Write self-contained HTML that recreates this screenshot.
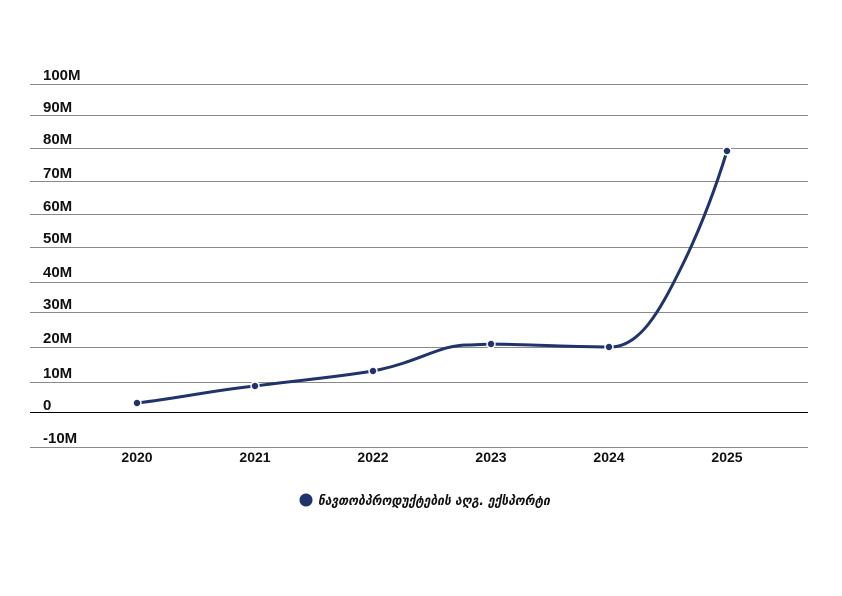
<!DOCTYPE html>
<html><head><meta charset="utf-8"><style>body{margin:0;background:#fff}svg{display:block}</style></head><body>
<svg width="842" height="596" xmlns="http://www.w3.org/2000/svg" font-family="Liberation Sans, DejaVu Sans, sans-serif">
<g stroke="#8a8a8a" stroke-width="1">
<line x1="30" x2="808" y1="84.5" y2="84.5"/><line x1="30" x2="808" y1="115.5" y2="115.5"/><line x1="30" x2="808" y1="148.5" y2="148.5"/><line x1="30" x2="808" y1="181.5" y2="181.5"/><line x1="30" x2="808" y1="214.5" y2="214.5"/><line x1="30" x2="808" y1="247.5" y2="247.5"/><line x1="30" x2="808" y1="282.5" y2="282.5"/><line x1="30" x2="808" y1="312.5" y2="312.5"/><line x1="30" x2="808" y1="347.5" y2="347.5"/><line x1="30" x2="808" y1="382.5" y2="382.5"/><line x1="30" x2="808" y1="447.5" y2="447.5"/>
</g>
<line x1="30" x2="808" y1="412.5" y2="412.5" stroke="#000" stroke-width="1"/>
<g font-size="15" font-weight="bold" fill="#111">
<text x="43" y="80">100M</text><text x="43" y="112">90M</text><text x="43" y="144">80M</text><text x="43" y="178">70M</text><text x="43" y="211">60M</text><text x="43" y="243">50M</text><text x="43" y="277">40M</text><text x="43" y="309">30M</text><text x="43" y="343">20M</text><text x="43" y="378">10M</text><text x="43" y="410">0</text><text x="43" y="443">-10M</text>
</g>
<g font-size="14" font-weight="bold" fill="#111" text-anchor="middle">
<text x="137" y="462">2020</text><text x="255" y="462">2021</text><text x="373" y="462">2022</text><text x="491" y="462">2023</text><text x="609" y="462">2024</text><text x="727" y="462">2025</text>
</g>
<path d="M137,403 C180,398 215,390 255,386 C300,380 330,378 373,371 C420,362 440,344 470,345 C490,344 500,344 491,344 C540,345 580,347 609,347 C640,348 660,310 680,270 C700,230 715,190 727,151" fill="none" stroke="#20336b" stroke-width="3"/>
<g fill="#20336b" stroke="#fff" stroke-width="1.5">
<circle cx="137" cy="403" r="4"/><circle cx="255" cy="386" r="4"/><circle cx="373" cy="371" r="4"/><circle cx="491" cy="344" r="4"/><circle cx="609" cy="347" r="4"/><circle cx="727" cy="151" r="4"/>
</g>
<circle cx="306" cy="500" r="6.5" fill="#20336b"/>
<text x="318" y="505" font-size="13" font-weight="bold" font-style="italic" fill="#111" font-family="DejaVu Sans, sans-serif" textLength="232" lengthAdjust="spacingAndGlyphs">ნავთობპროდუქტების აღგ. ექსპორტი</text>
</svg>
</body></html>
